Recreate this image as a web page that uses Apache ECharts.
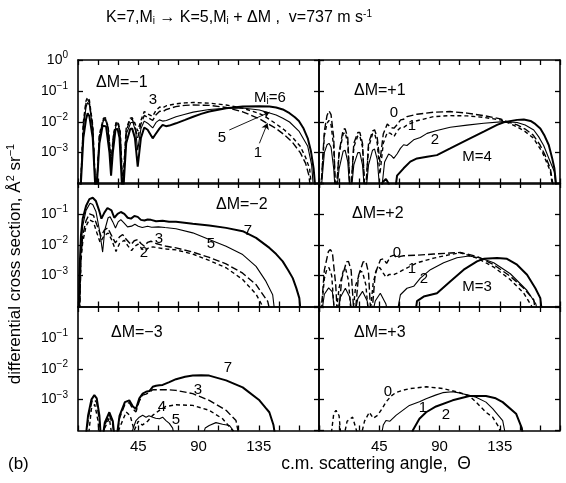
<!DOCTYPE html>
<html><head><meta charset="utf-8">
<script src="https://cdn.jsdelivr.net/npm/echarts@6/dist/echarts.min.js"></script>
<style>html,body{margin:0;padding:0;background:#fff}#c{width:566px;height:483px}</style>
</head><body><div id="c"></div>
<script>
// ---------- data: [scattering angle (deg), differential cross section] ----------
// ΔM = -1 panel
const A_M6 = [[1.5,3e-5],[4,0.003],[6,0.012],[7.2,0.019],[8.5,0.015],[11,0.003],[13.4,3e-5],[16,0.002],[18.4,0.0075],[19.7,0.0085],[21,0.007],[23.5,0.001],[24.7,0.00018],[26,0.001],[28,0.0055],[29.5,0.006],[31,0.003],[33.4,3e-5],[36,0.002],[39,0.0058],[40.5,0.006],[42.5,0.003],[44.6,0.00035],[47,0.003],[49.5,0.0065],[52,0.0055],[55.8,0.0029],[58,0.004],[60.8,0.006],[63.2,0.0079],[65.7,0.0072],[68.2,0.0075],[73.2,0.0089],[80,0.0115],[86,0.0145],[92,0.018],[98,0.0214],[110.6,0.0275],[123,0.031],[135.5,0.032],[143,0.0311],[148,0.029],[153,0.025],[158,0.0189],[162,0.014],[165,0.0106],[168.5,0.006],[171.6,0.0029],[174,0.0011],[176,0.0003],[178,3e-5]];
const A_M5 = [[1.5,3e-5],[4,0.006],[6,0.03],[7.2,0.042],[8.5,0.035],[11,0.006],[13.4,3e-5],[16,0.003],[19,0.011],[20.5,0.0115],[22.5,0.006],[24.7,0.0003],[26.5,0.003],[28.5,0.008],[30,0.008],[31.5,0.004],[33.4,3e-5],[36,0.004],[39.5,0.0095],[41,0.0095],[43,0.005],[44.6,0.0012],[47,0.006],[49.5,0.0105],[52,0.009],[55.8,0.0063],[58.3,0.0095],[60.8,0.0115],[63.2,0.0105],[66,0.011],[73.2,0.0145],[80,0.0175],[86,0.0205],[98,0.025],[110.6,0.0275],[123,0.028],[135.5,0.024],[140,0.021],[148,0.0165],[153,0.013],[158,0.0098],[165,0.005],[171.6,0.0016],[174.5,0.0004],[176.5,3e-5]];
const A_M3 = [[1.5,3e-5],[4,0.01],[6,0.048],[7.2,0.062],[8.5,0.05],[11,0.008],[13.4,3e-5],[16,0.004],[19,0.013],[20.5,0.0135],[22.5,0.007],[24.7,0.0005],[26.5,0.004],[28.5,0.0095],[30,0.0095],[31.5,0.005],[33.4,0.0001],[36,0.006],[39,0.013],[40.5,0.0135],[42.5,0.009],[44.6,0.005],[47,0.011],[49.5,0.0215],[52,0.018],[55.8,0.015],[58.3,0.0235],[61,0.03],[63.2,0.028],[66,0.033],[73,0.038],[80,0.041],[86,0.042],[98,0.04],[110.6,0.035],[123,0.0275],[135.5,0.0185],[140,0.0145],[148,0.0085],[154,0.0055],[160,0.0032],[166,0.0016],[170,0.0007],[173,0.0003],[175.3,3e-5]];
const A_M1 = [[1.5,3e-5],[4,0.008],[6,0.04],[7.2,0.052],[8.5,0.042],[11,0.007],[13.4,3e-5],[16,0.0035],[19,0.012],[20.5,0.0125],[22.5,0.0065],[24.7,0.0004],[26.5,0.0035],[28.5,0.009],[30,0.009],[31.5,0.0045],[33.4,5e-5],[36,0.005],[39,0.012],[40.5,0.012],[42.5,0.007],[44.6,0.003],[47,0.0085],[49.5,0.016],[52,0.014],[55.8,0.011],[58.3,0.017],[61,0.022],[63.2,0.021],[66,0.025],[73,0.031],[80,0.034],[86,0.035],[98,0.034],[110.6,0.029],[123,0.021],[135.5,0.0125],[140,0.0095],[148,0.006],[154,0.0038],[160,0.0022],[166,0.001],[170,0.00045],[172.5,0.00018],[174.5,3e-5]];
const arrow5 = [[113,0.0054],[143,0.0204]];
const arrow1 = [[135.5,0.002],[141.5,0.0089]];
// ΔM = +1 panel
const B_0 = [[1,3e-5],[4,0.005],[6,0.016],[7.5,0.0225],[9,0.017],[11,0.003],[12.5,3e-5],[15,0.001],[18,0.0055],[19.5,0.006],[21.5,0.003],[23.5,3e-5],[26,0.002],[29,0.0045],[30.5,0.0045],[32.5,0.002],[34.5,3e-5],[37,0.002],[40,0.005],[41.5,0.0055],[43.5,0.003],[45.5,0.0005],[48,0.004],[51,0.0085],[53.5,0.0065],[56,0.0062],[58.3,0.008],[61,0.0115],[63.2,0.012],[65.7,0.0147],[73.2,0.0175],[85.7,0.0204],[98,0.0214],[110.6,0.019],[123,0.0158],[135.5,0.0124],[140,0.0102],[148,0.0079],[154,0.0058],[160,0.0037],[165,0.0018],[169,0.0008],[172.8,0.0003],[176.6,3e-5]];
const B_1 = [[1,3e-5],[4,0.0035],[6,0.009],[7.5,0.011],[9,0.008],[11,0.0015],[12.5,3e-5],[15,0.0009],[18,0.004],[19.5,0.0045],[21.5,0.002],[23.5,3e-5],[26,0.0015],[29,0.0035],[30.5,0.0035],[32.5,0.0015],[34.5,3e-5],[37,0.0015],[40,0.004],[41.5,0.0042],[43.5,0.002],[45.5,0.0002],[48,0.002],[51,0.0045],[53.5,0.0042],[56,0.0033],[58.3,0.005],[61,0.0065],[63.2,0.0065],[66,0.008],[73.2,0.0108],[85.7,0.0147],[98,0.0158],[110.6,0.0155],[123,0.0138],[135.5,0.0115],[140,0.0098],[148,0.0068],[154,0.0048],[160,0.003],[167,0.001],[172.8,0.00025],[175.8,3e-5]];
const B_2 = [[1,3e-5],[4,0.001],[6,0.0018],[7.5,0.002],[9,0.0015],[11,0.0003],[12.5,3e-5],[15,0.0003],[18,0.0011],[19.5,0.0012],[21.5,0.0005],[23.5,3e-5],[26,0.0004],[29,0.001],[30.5,0.001],[32.5,0.0004],[34.5,3e-5],[37,0.0004],[40,0.0012],[41.5,0.0013],[43.5,0.0006],[46,3e-5],[49,0.0005],[52,0.0009],[54,0.0008],[55.8,0.00065],[58.3,0.0009],[60.8,0.00137],[63.2,0.0018],[65.7,0.0017],[70.7,0.0026],[75.7,0.0031],[80.7,0.0042],[88,0.0052],[98,0.0066],[110.6,0.0078],[123,0.0089],[138,0.0101],[148,0.0095],[154,0.0078],[160.4,0.0054],[164,0.0033],[167.8,0.0017],[172,0.0006],[175.8,0.00024],[177.8,3e-5]];
const B_4 = [[0,3e-5],[45,3e-5],[47.5,0.00011],[50,0.00014],[52,0.0001],[54,3e-5],[56,3e-5],[58.3,0.00018],[63.2,0.00031],[68.2,0.00051],[73.2,0.00065],[80.7,0.00074],[88.1,0.00083],[98,0.00137],[110.6,0.0026],[123,0.0048],[133,0.0079],[138,0.0096],[148,0.0115],[153,0.0118],[158,0.0106],[161.5,0.0085],[165.3,0.0061],[168.5,0.0035],[171.6,0.00177],[174,0.0007],[175.8,0.00031],[178.3,3e-5]];
// ΔM = -2 panel
const C_7 = [[0.5,3e-5],[1,0.001],[2.2,0.02],[3.5,0.07],[6,0.18],[8.5,0.3],[11,0.333],[13.4,0.26],[16,0.12],[17.5,0.07],[19.7,0.11],[22,0.155],[23.4,0.16],[25,0.13],[27.1,0.075],[29.6,0.1],[32,0.115],[34.6,0.1],[37.1,0.075],[39.6,0.07],[42.1,0.085],[44.6,0.08],[47,0.064],[49.6,0.061],[52,0.066],[54.5,0.064],[58.3,0.058],[63.2,0.06],[68,0.056],[73.2,0.0553],[85.7,0.0476],[98,0.042],[110.6,0.0352],[123,0.0275],[133,0.0167],[143,0.0079],[148,0.005],[152.9,0.0029],[157,0.0015],[160.4,0.00083],[163,0.0004],[165.3,0.000187],[167,3e-5]];
const C_5 = [[1,3e-5],[2.2,0.008],[3.5,0.04],[6,0.13],[9,0.22],[11,0.2],[13.4,0.12],[16,0.03],[18.4,0.0058],[20,0.03],[22.5,0.075],[24,0.08],[26,0.055],[28,0.035],[30,0.055],[32,0.065],[34.5,0.05],[37,0.038],[40,0.04],[42.5,0.046],[45,0.04],[48,0.036],[52,0.04],[55,0.037],[60,0.038],[65,0.036],[73.2,0.033],[85.7,0.0243],[98,0.0147],[110.6,0.0089],[123,0.0048],[133,0.002],[140.4,0.00065],[145.4,0.00024],[147.9,3e-5]];
const C_3 = [[1,3e-5],[2.2,0.004],[3.5,0.02],[6,0.06],[8.5,0.1],[9.7,0.108],[11.5,0.09],[14,0.045],[17.2,0.019],[19.7,0.03],[22.2,0.035],[24.5,0.022],[27.9,0.0115],[31,0.018],[33.4,0.0214],[36,0.015],[39.6,0.0101],[42,0.0135],[44.6,0.0147],[47,0.011],[49.6,0.0089],[52,0.012],[54.5,0.013],[58.3,0.011],[66,0.0089],[73.2,0.0079],[85.7,0.0058],[98,0.0039],[110.6,0.0024],[123,0.0012],[133,0.00051],[141.7,0.000146],[145.4,3e-5]];
const C_2 = [[1,3e-5],[2.2,0.003],[3.5,0.012],[6,0.04],[8.5,0.065],[9.7,0.07],[11.5,0.055],[14,0.025],[16.5,0.012],[19.7,0.02],[22.5,0.024],[25,0.015],[28.4,0.0061],[31,0.011],[34.6,0.014],[37,0.0095],[40,0.0065],[42.5,0.009],[45,0.0105],[47.5,0.0075],[50,0.0063],[53,0.0082],[56,0.0085],[60,0.0079],[66,0.0073],[73.2,0.0068],[85.7,0.005],[98,0.0031],[110.6,0.0018],[123,0.00075],[133,0.00025],[138,0.0001],[140,3e-5]];
// ΔM = +2 panel
const D_0 = [[1,3e-5],[4,0.0015],[7,0.006],[8.5,0.007],[10,0.0055],[12.5,0.0005],[14,3e-5],[17,0.0008],[20.5,0.0028],[22,0.0029],[24,0.0015],[26.5,3e-5],[29.5,0.001],[33,0.0028],[35,0.0029],[37,0.0012],[39,3e-5],[42,0.0012],[46,0.0033],[48,0.0035],[50.5,0.0025],[53.5,0.0042],[56,0.0046],[58.3,0.0037],[60.8,0.0042],[63.2,0.0044],[73.2,0.0046],[85.7,0.005],[98,0.0054],[105.6,0.0056],[118,0.0042],[130.5,0.00226],[142.9,0.00095],[152.9,0.00039],[160.4,0.000165],[162.8,3e-5]];
const D_1 = [[1,3e-5],[4,0.0008],[6,0.0017],[7.5,0.0018],[9.5,0.001],[12,3e-5],[15,0.0004],[18.4,0.0016],[20,0.0016],[22,0.0007],[24.5,3e-5],[27.5,0.0005],[30.9,0.0014],[32.5,0.0013],[35,0.0005],[37.5,3e-5],[40.5,0.0006],[43.3,0.0017],[45.5,0.0018],[48,0.0012],[50,0.0009],[52.5,0.0011],[55.8,0.00107],[58.3,0.0012],[63.2,0.00156],[73.2,0.0026],[85.7,0.0037],[98,0.0048],[105.6,0.0055],[118,0.0037],[130.5,0.0019],[142.9,0.00074],[152.9,0.00027],[159,0.0001],[161.6,3e-5]];
const D_2 = [[1,3e-5],[4,0.00025],[7.2,0.0004],[10,0.0003],[12.5,3e-5],[16,0.0002],[19.7,0.00039],[23,0.0002],[25.5,3e-5],[29,0.00018],[32.5,0.00031],[36,0.00015],[38.5,3e-5],[42,0.00015],[45.8,0.00027],[50,0.00012],[53,3e-5],[57,3e-5],[60.8,0.00024],[65.7,0.00039],[70.7,0.00045],[75.7,0.00083],[83.2,0.00156],[93.1,0.0026],[103,0.0038],[112,0.0043],[120.5,0.0037],[130.5,0.0026],[142.9,0.00115],[155.4,0.00033],[162,0.00012],[164.8,3e-5]];
const D_3 = [[71,3e-5],[73.2,0.00015],[78.2,0.00021],[88.1,0.00027],[98,0.00065],[108.1,0.00156],[118,0.0029],[123,0.0035],[133,0.0037],[140.4,0.0035],[147.9,0.00226],[155.4,0.00107],[161.6,0.00039],[165.3,0.000187],[167.3,3e-5]];
// ΔM = -3 panel
const E_7 = [[5,3e-5],[7.5,0.0003],[10,0.001],[12.2,0.0014],[14,0.0011],[16,0.0003],[17.5,3e-5],[20,0.00018],[23.4,0.00039],[26,0.0002],[28,3e-5],[31,0.0003],[35,0.00083],[38.3,0.00095],[41,0.0006],[43.3,0.0005],[45.8,0.0011],[48.3,0.00156],[50.8,0.0018],[53.3,0.0019],[55.8,0.0026],[58.3,0.0028],[60.8,0.0029],[63.2,0.003],[68.2,0.0037],[73.2,0.0046],[80,0.0055],[85.7,0.006],[92,0.0062],[98,0.006],[110.6,0.0042],[123,0.0025],[135.5,0.00095],[140,0.00055],[142.9,0.00039],[146,0.00015],[148.5,3e-5]];
const E_3 = [[5,3e-5],[8,0.0003],[10.5,0.0009],[12.2,0.001],[14,0.0008],[16,0.0002],[17.5,3e-5],[20,0.00015],[23.4,0.00033],[26,0.00015],[28,3e-5],[31,0.00025],[35,0.0007],[38.3,0.0008],[41,0.0005],[43.3,0.0004],[45.8,0.0009],[48.3,0.0014],[50.8,0.0015],[53.3,0.0017],[55.8,0.0021],[60.8,0.0021],[66,0.0021],[73.2,0.002],[85.7,0.00156],[98,0.00095],[110.6,0.00045],[118,0.00021],[121.8,3e-5]];
const E_4 = [[7,3e-5],[10,0.0005],[12.5,0.0007],[15,0.0002],[16.5,3e-5],[20,0.00012],[23.4,0.00025],[26.5,3e-5],[31,0.00012],[36,0.0004],[39,0.0003],[42,0.0001],[45,0.0002],[48,0.00015],[52,0.0002],[55.8,0.00031],[60.8,0.00045],[65.7,0.0006],[73.2,0.00068],[85.7,0.00065],[98,0.00045],[108,0.00024],[115.5,0.0001],[117.5,3e-5]];
const E_5 = [[35.9,3e-5],[41,0.00011],[43.3,0.00021],[45.8,0.00027],[48.3,0.00031],[50.8,0.00027],[53,0.0003],[55.8,0.00027],[58,0.00025],[60.8,0.00024],[63.2,0.00027],[65.7,0.00021],[68.2,0.00017],[70.7,0.00012],[73.2,3e-5]];
const E_6 = [[90.6,3e-5],[95,0.00012],[98,0.000146],[103,0.00018],[108,0.00016],[113,0.000146],[116,0.0001],[118,3e-5]];
// ΔM = +3 panel
const F_0 = [[8,3e-5],[11,0.00035],[12.7,0.00045],[15,0.0003],[17,3e-5],[21,0.0002],[25.1,0.00027],[28,0.0001],[29.5,3e-5],[34,0.0002],[37.6,0.00039],[40.5,0.00025],[43.8,0.00031],[47,0.0005],[50,0.00083],[53.8,0.0013],[57.5,0.0017],[62.5,0.002],[67.5,0.00226],[80,0.0026],[92.4,0.0023],[104.8,0.0017],[112.3,0.00131],[117.3,0.00083],[124.7,0.00039],[129.7,0.00027],[134.7,0.00012],[137.2,3e-5]];
const F_1 = [[45,3e-5],[48,0.00015],[50,0.00021],[53,0.0002],[57.5,0.00031],[62.5,0.00045],[67.5,0.00065],[75,0.00085],[80,0.00107],[87,0.0014],[92.4,0.00168],[99.8,0.0018],[104.8,0.00165],[112.3,0.00137],[117.3,0.0012],[124.7,0.00083],[129.7,0.00051],[137.2,0.00021],[141,3e-5]];
const F_2 = [[69,3e-5],[70,0.0001],[75,0.00024],[80,0.00039],[87.4,0.0006],[99.8,0.00095],[112.3,0.00131],[124.7,0.00131],[132,0.0011],[137.2,0.00083],[147.2,0.00035],[151.5,0.00012],[153.4,3e-5]];
// axis ticks
const xLabelTicks = [45, 90, 135];
const yDecades = [-4, -3, -2, -1, 0];

// ---------- chart ----------
const FONT = '"Liberation Sans", Arial, Helvetica, sans-serif';
const panelBoxes = [[78,60],[319,60],[78,183],[319,183],[78,307],[319,307]];
const PW = 241, PH = 123.5;
const styles = {
  thick: {width: 2, type: 'solid'},
  thin: {width: 1.1, type: 'solid'},
  dash: {width: 1.4, type: [4, 3]},
  long: {width: 1.4, type: [7, 3]}
};
const seriesDefs = [
  [0, A_M6, 'thick'], [0, A_M5, 'thin'], [0, A_M3, 'dash'], [0, A_M1, 'long'],
  [1, B_0, 'long'], [1, B_1, 'dash'], [1, B_2, 'thin'], [1, B_4, 'thick'],
  [2, C_7, 'thick'], [2, C_5, 'thin'], [2, C_3, 'long'], [2, C_2, 'dash'],
  [3, D_0, 'long'], [3, D_1, 'dash'], [3, D_2, 'thin'], [3, D_3, 'thick'],
  [4, E_7, 'thick'], [4, E_3, 'long'], [4, E_4, 'dash'], [4, E_5, 'thin'], [4, E_6, 'thin'],
  [5, F_0, 'dash'], [5, F_1, 'thin'], [5, F_2, 'thick']
];

const grid = [], xAxis = [], yAxis = [];
panelBoxes.forEach((b, g) => {
  grid.push({left: b[0], top: b[1], width: PW, height: PH, containLabel: false});
  const line = {show: true, onZero: false, lineStyle: {color: '#000', width: 1.6}};
  const tick = {show: true, inside: true, length: 5, lineStyle: {color: '#000', width: 1.3}};
  ['bottom', 'top'].forEach((pos, k) => {
    xAxis.push({
      gridIndex: g, type: 'value', min: 0, max: 180, interval: 15, position: pos,
      axisLine: line, axisTick: tick, splitLine: {show: false},
      axisLabel: {
        show: k === 0 && g >= 4, margin: 9, color: '#000', fontSize: 15, fontFamily: FONT,
        formatter: v => xLabelTicks.indexOf(v) >= 0 ? String(v) : ''
      }
    });
  });
  ['left', 'right'].forEach((pos, k) => {
    yAxis.push({
      gridIndex: g, type: 'log', logBase: 10, min: 1e-4, max: 1, position: pos,
      axisLine: line, axisTick: tick, splitLine: {show: false}, minorTick: {show: false},
      axisLabel: {
        show: k === 0 && g % 2 === 0, margin: 10, color: '#000', fontFamily: FONT,
        showMinLabel: false, showMaxLabel: g === 0,
        formatter: v => {
          const e = Math.round(Math.log10(v));
          if (yDecades.indexOf(e) < 0 || e === -4) return '';
          if (e === 0 && g > 0) return '';
          return '{b|10}{s|' + (e === 0 ? '0' : '\u2212' + (-e)) + '}';
        },
        rich: {
          b: {fontSize: 14, fontFamily: FONT, color: '#000'},
          s: {fontSize: 10, fontFamily: FONT, color: '#000', padding: [0, 0, 9, 0]}
        }
      }
    });
  });
});

const series = seriesDefs.map(d => ({
  type: 'line', xAxisIndex: d[0] * 2, yAxisIndex: d[0] * 2, data: d[1],
  showSymbol: false, symbol: 'none', clip: true, silent: true, animation: false,
  lineStyle: Object.assign({color: '#000'}, styles[d[2]])
}));
// arrows in ΔM=-1 panel
function addArrow(idx, arr) {
  series[idx].markLine = {
    silent: true, symbol: ['none', 'arrow'], symbolSize: 6, animation: false,
    label: {show: false}, lineStyle: {color: '#000', width: 0.9, type: 'solid'},
    data: [[{coord: arr[0]}, {coord: arr[1]}]]
  };
}
addArrow(1, arrow5);
addArrow(3, arrow1);

function txt(text, x, y, size, align, extra) {
  return {
    type: 'text', silent: true, z: 100,
    style: Object.assign({
      text: text, x: x, y: y, fill: '#000', font: size + 'px ' + FONT,
      align: align || 'center', verticalAlign: 'middle',
      textAlign: align || 'center', textVerticalAlign: 'middle'
    }, extra || {})
  };
}
const subRich = {
  sub: {fontSize: 10, fontFamily: FONT, fill: '#000', padding: [7, 0, 0, 0]},
  sup: {fontSize: 10, fontFamily: FONT, fill: '#000', padding: [0, 0, 8, 0]},
  n: {fontSize: 16, fontFamily: FONT, fill: '#000'},
  m: {fontSize: 15, fontFamily: FONT, fill: '#000'}
};
const graphic = [
  txt('{n|K=7,M}{sub|i}{n| \u2192 K=5,M}{sub|i}{n| + \u0394M ,  v=737 m s}{sup|-1}', 239, 18, 16, 'center', {rich: subRich}),
  txt('(b)', 8, 464, 17, 'left'),
  txt('c.m. scattering angle,  \u0398', 376, 464, 17.5, 'center'),
  Object.assign(txt('{m|differential cross section, \u00c5}{sup|2}{m| sr}{sup|\u22121}', 0, 0, 17, 'center', {
    rich: {m: {fontSize: 17, fontFamily: FONT, fill: '#000'}, sup: {fontSize: 11, fontFamily: FONT, fill: '#000', padding: [0, 0, 9, 0]}}
  }), {x: 15, y: 264, rotation: Math.PI / 2}),
  // panel labels
  txt('\u0394M=\u22121', 96, 83, 16, 'left'),
  txt('3', 153, 100, 15), txt('{m|M}{sub|i}{m|=6}', 270, 98, 15, 'center', {rich: subRich}),
  txt('5', 222, 138, 15), txt('1', 258, 153, 15),
  txt('\u0394M=+1', 354, 91, 16, 'left'),
  txt('0', 394, 113, 15), txt('1', 412, 126, 15), txt('2', 435, 140, 15), txt('M=4', 477, 157, 15),
  txt('\u0394M=\u22122', 216, 205, 16, 'left'),
  txt('7', 248, 231, 15), txt('5', 211, 244, 15), txt('3', 159, 239, 15), txt('2', 144, 253, 15),
  txt('\u0394M=+2', 352, 214, 16, 'left'),
  txt('0', 397, 253, 15), txt('1', 412, 269, 15), txt('2', 424, 279, 15), txt('M=3', 477, 287, 15),
  txt('\u0394M=\u22123', 111, 333, 16, 'left'),
  txt('7', 228, 368, 15), txt('3', 198, 390, 15), txt('4', 162, 407, 15), txt('5', 176, 420, 15),
  txt('\u0394M=+3', 354, 333, 16, 'left'),
  txt('0', 388, 392, 15), txt('1', 423, 408, 15), txt('2', 446, 415, 15)
];

const chart = echarts.init(document.getElementById('c'), null, {renderer: 'canvas'});
chart.setOption({animation: false, backgroundColor: '#fff', grid, xAxis, yAxis, series, graphic});
</script></body></html>
